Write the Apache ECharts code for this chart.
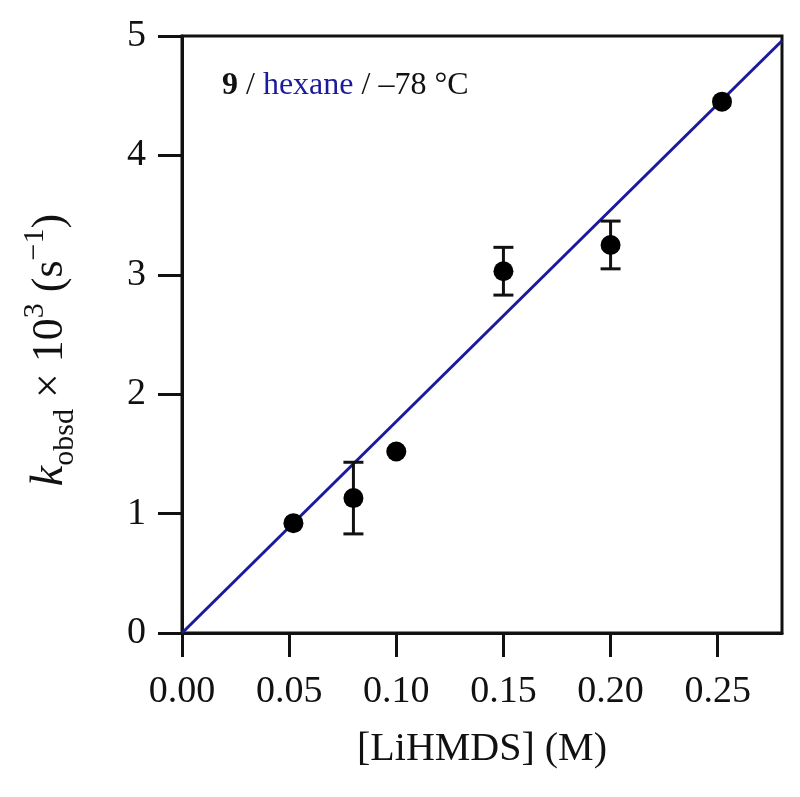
<!DOCTYPE html>
<html>
<head>
<meta charset="utf-8">
<script src="https://cdn.jsdelivr.net/npm/echarts@6/dist/echarts.min.js"></script>
<style>
html,body{margin:0;padding:0;background:#fff;}
#chart{width:800px;height:797px;}
</style>
</head>
<body>
<div id="chart"></div>
<script>
// Data
const conc = [0.052, 0.080, 0.100, 0.150, 0.200, 0.252];      // [LiHMDS] (M)
const kobs = [0.92, 1.13, 1.52, 3.03, 3.25, 4.45];             // k_obsd x 10^3 (s^-1)
const kerr = [0, 0.30, 0, 0.20, 0.20, 0];                      // error bar half-widths
const fitX = [0, 0.28];                                        // fitted line x
const fitY = [0, 4.96];                                        // fitted line y
const xTicks = [0, 0.05, 0.10, 0.15, 0.20, 0.25];
const yTicks = [0, 1, 2, 3, 4, 5];

const FONT = '"Liberation Serif", "DejaVu Serif", serif';
const BLACK = '#111';
const BLUE = '#1a1a9e';

const points = conc.map((x, i) => [x, kobs[i]]);
const errs = conc.map((x, i) => [x, kobs[i] - kerr[i], kobs[i] + kerr[i]]).filter((d, i) => kerr[i] > 0);
const fit = fitX.map((x, i) => [x, fitY[i]]);

const chart = echarts.init(document.getElementById('chart'), null, {renderer: 'canvas'});
chart.setOption({
  backgroundColor: '#fff',
  animation: false,
  grid: {left: 182, right: 18, top: 36, bottom: 164, show: true, borderColor: BLACK, borderWidth: 3},
  xAxis: {
    type: 'value', min: 0, max: 0.28, interval: 0.05,
    name: '[LiHMDS] (M)', nameLocation: 'middle', nameGap: 96,
    nameTextStyle: {fontFamily: FONT, fontSize: 40, color: BLACK},
    axisLine: {show: true, onZero: false, lineStyle: {color: BLACK, width: 3}},
    axisTick: {show: true, inside: false, length: 24, lineStyle: {color: BLACK, width: 3}, customValues: xTicks},
    axisLabel: {fontFamily: FONT, fontSize: 38, color: BLACK, margin: 40, customValues: xTicks,
      formatter: v => v.toFixed(2)},
    splitLine: {show: false}
  },
  yAxis: {
    type: 'value', min: 0, max: 5, interval: 1,
    axisLine: {show: true, onZero: false, lineStyle: {color: BLACK, width: 3}},
    axisTick: {show: true, inside: false, length: 24, lineStyle: {color: BLACK, width: 3}, customValues: yTicks},
    axisLabel: {fontFamily: FONT, fontSize: 38, color: BLACK, margin: 36, customValues: yTicks},
    splitLine: {show: false}
  },
  graphic: [{
    type: 'text', x: 50, y: 350, rotation: Math.PI / 2, z: 10,
    style: {
      text: '{k|k}{sub|obsd}{n| × 10}{sup|3}{n| (s}{sup|−1}{n|)}',
      align: 'center', verticalAlign: 'middle',
      rich: {
        k: {fontFamily: FONT, fontSize: 46, fontStyle: 'italic', fill: BLACK, lineHeight: 60},
        n: {fontFamily: FONT, fontSize: 44, fill: BLACK, lineHeight: 60},
        sub: {fontFamily: FONT, fontSize: 30, fill: BLACK, lineHeight: 28, verticalAlign: 'bottom'},
        sup: {fontFamily: FONT, fontSize: 30, fill: BLACK, lineHeight: 28, verticalAlign: 'top'}
      },
      fontFamily: FONT, fontSize: 44
    }
  }, {
    type: 'text', left: 222, top: 70, z: 10,
    style: {
      text: '{b|9} {n|/} {h|hexane} {n|/ –78 °C}',
      rich: {
        b: {fontFamily: FONT, fontSize: 32, fontWeight: 'bold', fill: BLACK},
        n: {fontFamily: FONT, fontSize: 32, fill: BLACK},
        h: {fontFamily: FONT, fontSize: 32, fill: BLUE}
      },
      fontFamily: FONT, fontSize: 32
    }
  }],
  series: [
    {
      type: 'line', data: fit, showSymbol: false, symbol: 'none',
      lineStyle: {color: BLUE, width: 3}, z: 2, silent: true
    },
    {
      type: 'custom', z: 3, data: errs,
      renderItem: function (params, api) {
        const x = api.value(0);
        const lo = api.coord([x, api.value(1)]);
        const hi = api.coord([x, api.value(2)]);
        const cap = 10;
        const st = {stroke: BLACK, lineWidth: 3};
        return {type: 'group', children: [
          {type: 'line', shape: {x1: lo[0], y1: lo[1], x2: hi[0], y2: hi[1]}, style: st},
          {type: 'line', shape: {x1: lo[0] - cap, y1: lo[1], x2: lo[0] + cap, y2: lo[1]}, style: st},
          {type: 'line', shape: {x1: hi[0] - cap, y1: hi[1], x2: hi[0] + cap, y2: hi[1]}, style: st}
        ]};
      },
      encode: {x: 0, y: [1, 2]}
    },
    {
      type: 'scatter', data: points, symbol: 'circle', symbolSize: 20,
      itemStyle: {color: '#000', opacity: 1}, z: 4
    }
  ]
});
</script>
</body>
</html>
